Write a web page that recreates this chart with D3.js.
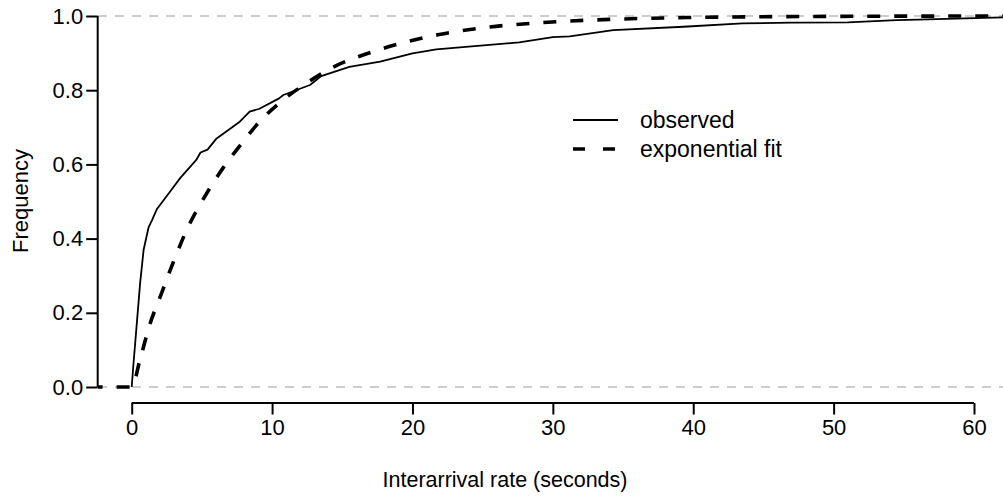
<!DOCTYPE html>
<html>
<head>
<meta charset="utf-8">
<script src="https://cdn.jsdelivr.net/npm/d3@7"></script>
<style>
  body { margin: 0; background: #fff; }
  text { font-family: "Liberation Sans", Arial, sans-serif; fill: #000; }
</style>
</head>
<body>
<div id="chart"></div>
<script>
// observed cumulative frequency
var obsX = [0, 0.1, 0.6, 0.85, 1.2, 1.45, 1.8, 2.7, 3.45, 4.6, 4.9, 5.4, 6.05, 7.7, 8.4, 9.1, 10.5, 10.8, 12.7, 13.5, 15.5, 17.7, 20, 21.7, 27.6, 30, 31.2, 34.3, 39.3, 43.5, 47, 51, 54.5, 56, 62.5];
var obsY = [0, 0.05, 0.28, 0.37, 0.43, 0.45, 0.48, 0.525, 0.563, 0.612, 0.632, 0.64, 0.67, 0.715, 0.742, 0.75, 0.778, 0.787, 0.814, 0.838, 0.863, 0.877, 0.899, 0.91, 0.929, 0.943, 0.945, 0.962, 0.971, 0.98, 0.982, 0.983, 0.989, 0.99, 0.997];

// exponential fit curve
var fitX = [-3, 0, 0.6, 1.3, 2, 3, 4, 5, 6.5, 7.8, 9.1, 10.5, 12.5, 14, 17.7, 21.9, 25, 30.5, 35, 40, 50, 62.5];
var fitY = [0, 0, 0.075, 0.17, 0.24, 0.34, 0.43, 0.5, 0.59, 0.655, 0.715, 0.765, 0.82, 0.855, 0.91, 0.95, 0.968, 0.985, 0.992, 0.996, 0.999, 1.0];

var xTicks = [0, 10, 20, 30, 40, 50, 60];
var yTicks = [0, 0.2, 0.4, 0.6, 0.8, 1.0];
var refLines = [0, 1];
var legendLabels = ["observed", "exponential fit"];

var width = 1003, height = 498;

var svg = d3.select("#chart").append("svg")
  .attr("width", width)
  .attr("height", height);

var x = d3.scaleLinear().domain([0, 60]).range([131.7, 974]);
var y = d3.scaleLinear().domain([0, 1]).range([387, 16]);

svg.append("clipPath").attr("id", "plotclip")
  .append("rect")
  .attr("x", 98).attr("y", 0)
  .attr("width", width - 98).attr("height", height);

// grey dashed reference lines at 0 and 1
svg.selectAll(".ref")
  .data(refLines)
  .enter()
  .append("line")
  .attr("x1", 98)
  .attr("x2", width)
  .attr("y1", d => y(d))
  .attr("y2", d => y(d))
  .attr("stroke", "#bdbdbd")
  .attr("stroke-width", 1.6)
  .attr("stroke-dasharray", "9,8");

var plot = svg.append("g").attr("clip-path", "url(#plotclip)");

var obsData = obsX.map((v, i) => [v, obsY[i]]);
var fitData = fitX.map((v, i) => [v, fitY[i]]);

plot.append("path")
  .datum(fitData)
  .attr("fill", "none")
  .attr("stroke", "#000")
  .attr("stroke-width", 3.6)
  .attr("stroke-dasharray", "13,14")
  .attr("d", d3.line().x(d => x(d[0])).y(d => y(d[1])).curve(d3.curveMonotoneX));

plot.append("path")
  .datum(obsData)
  .attr("fill", "none")
  .attr("stroke", "#000")
  .attr("stroke-width", 1.8)
  .attr("stroke-linejoin", "round")
  .attr("d", d3.line().x(d => x(d[0])).y(d => y(d[1])));

// axes
var xAxis = svg.append("g")
  .attr("transform", "translate(0,403)")
  .call(d3.axisBottom(x).tickValues(xTicks).tickSize(11.5).tickPadding(5).tickFormat(d3.format("d")));

var yAxis = svg.append("g")
  .attr("transform", "translate(97.7,0)")
  .call(d3.axisLeft(y).tickValues(yTicks).tickSize(11.5).tickPadding(3).tickFormat(d3.format(".1f")));

[xAxis, yAxis].forEach(function(a) {
  a.select(".domain").attr("stroke", "#000").attr("stroke-width", 2);
  a.selectAll(".tick line").attr("stroke", "#000").attr("stroke-width", 2);
  a.selectAll(".tick text").style("font-size", "22px").style("font-family", "Liberation Sans, Arial, sans-serif").attr("fill", "#000");
});
// R-style axis: no outer ticks
xAxis.select(".domain").attr("d", "M" + x(0) + ",0H" + x(60));
yAxis.select(".domain").attr("d", "M0," + y(0) + "V" + y(1));

// axis titles
svg.append("text")
  .attr("x", 505)
  .attr("y", 487)
  .attr("text-anchor", "middle")
  .style("font-size", "21.5px")
  .text("Interarrival rate (seconds)");

svg.append("text")
  .attr("transform", "translate(28,201) rotate(-90)")
  .attr("text-anchor", "middle")
  .style("font-size", "22px")
  .text("Frequency");

// legend
var legend = svg.append("g");
legend.selectAll("line")
  .data(legendLabels)
  .enter()
  .append("line")
  .attr("x1", 573)
  .attr("x2", 618)
  .attr("y1", (d, i) => 120 + i * 29)
  .attr("y2", (d, i) => 120 + i * 29)
  .attr("stroke", "#000")
  .attr("stroke-width", (d, i) => i == 0 ? 1.8 : 3.6)
  .attr("stroke-dasharray", (d, i) => i == 0 ? null : "12,18");

legend.selectAll("text")
  .data(legendLabels)
  .enter()
  .append("text")
  .attr("x", 640)
  .attr("y", (d, i) => 128 + i * 29)
  .style("font-size", "23px")
  .text(d => d);
</script>
</body>
</html>
